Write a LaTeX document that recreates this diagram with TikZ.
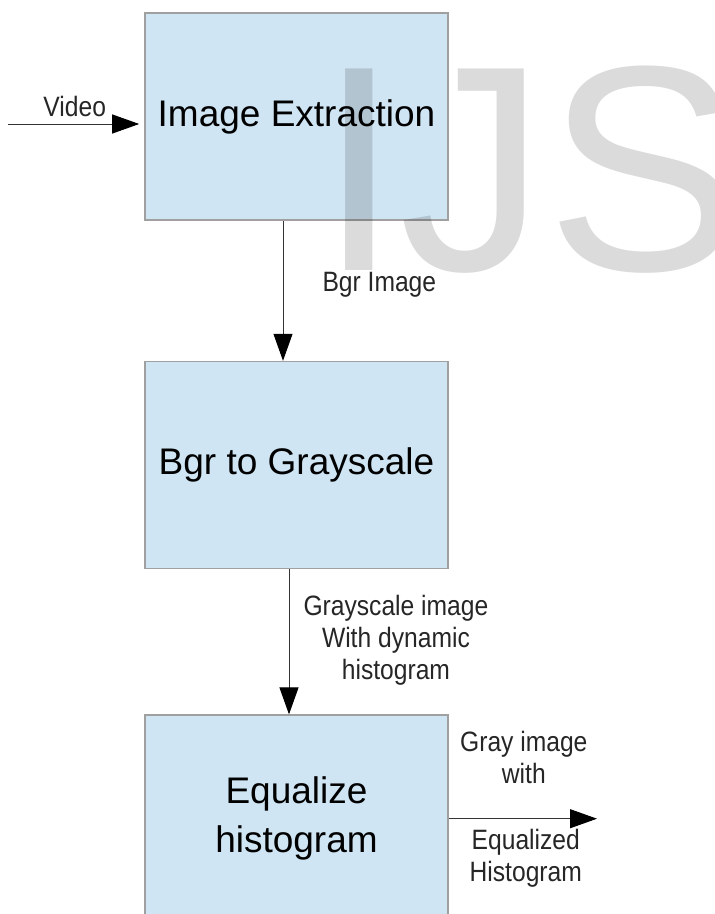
\documentclass[tikz,border=0pt]{standalone}
\usepackage{fontspec}
\setmainfont{Liberation Sans}
\newfontfamily\labelfont[FakeStretch=0.88]{Liberation Sans}
\usetikzlibrary{arrows.meta,positioning}
\definecolor{boxfill}{HTML}{CFE5F3}
\definecolor{boxedge}{HTML}{A0A0A0}
\tikzset{
  block/.style={
    draw=boxedge,
    line width=1.6pt,
    fill=boxfill,
    align=center,
    minimum width=303pt,
    minimum height=207pt,
    inner sep=0pt,
    font=\fontsize{37}{49}\selectfont
  },
  line/.style={
    -{Triangle[length=27pt,width=19pt,black]},
    line width=1pt,
    draw=black!80
  },
  tag/.style={
    align=center,
    inner sep=0pt,
    text=black!85,
    font=\labelfont\fontsize{28}{32}\selectfont
  }
}

\begin{document}
\begin{tikzpicture}[x=1pt, y=-1pt, node distance=140pt]
  \useasboundingbox (0,0) rectangle (715,914);
  \begin{scope}
  \clip (0,0) rectangle (715,914);
  \node[block] (extract) at (296.5,116.5) {Image Extraction};
  \node[block, below=of extract] (grayconv) {Bgr to Grayscale};
  \node[block, below=145pt of grayconv] (equalize) {Equalize\\histogram};

  \coordinate (vidin) at (8,124);
  \coordinate (eqout) at (597,816);

  \draw[line, shorten >=5pt] (vidin) -- node[tag, above=7pt, pos=0.49] {Video} (vidin -| extract.west);
  \draw[line] ([xshift=-13.5pt]extract.south) -- node[tag, right=39pt, pos=0.46] {Bgr Image} ([xshift=-13.5pt]grayconv.north);
  \draw[line] ([xshift=-7.5pt]grayconv.south) -- node[tag, right=14pt, pos=0.49] {Grayscale image\\With dynamic\\histogram} ([xshift=-7.5pt]equalize.north);
  \draw[line] (equalize.east) -- (equalize.east -| eqout);
  \node[tag, above=35pt of equalize.east, xshift=75pt, anchor=south] (outtop) {Gray image\\with};
  \node[tag, below=10pt of equalize.east, xshift=77pt, anchor=north] (outbot) {Equalized\\Histogram};

  % watermark over the top of the chart
  \node[anchor=base west, inner sep=0pt, text=black, text opacity=0.14,
        font=\fontsize{293}{293}\selectfont] (mark) at (318,270) {IJS};
  \end{scope}
\end{tikzpicture}
\end{document}
